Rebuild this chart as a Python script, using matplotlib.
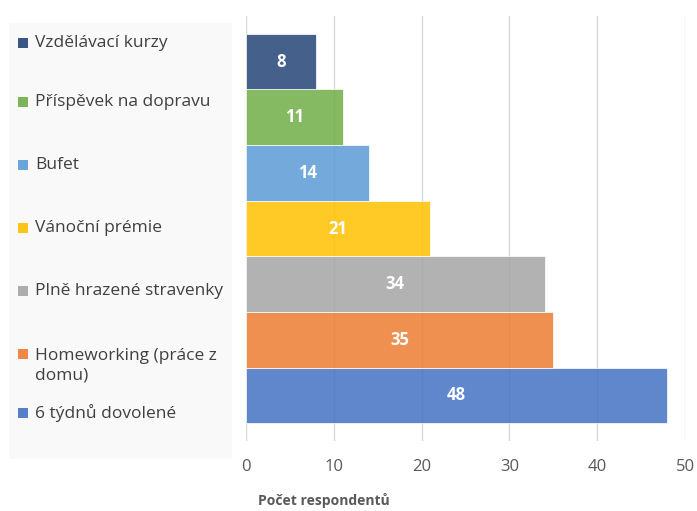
import matplotlib.pyplot as plt
import numpy as np

# data, bottom to top as drawn
categories = ['6 týdnů dovolené', 'Homeworking (práce z\ndomu)', 'Plně hrazené stravenky',
              'Vánoční prémie', 'Bufet', 'Příspěvek na dopravu', 'Vzdělávací kurzy']
values = [48, 35, 34, 21, 14, 11, 8]
colors = ['#4472C4', '#ED7D31', '#A5A5A5', '#FFC000', '#5B9BD5', '#70AD47', '#264478']
x_ticks = [0, 10, 20, 30, 40, 50]
x_label = 'Počet respondentů'

plt.rcParams['font.family'] = ['Open Sans', 'DejaVu Sans']

W, H = 697, 511
fig = plt.figure(figsize=(W / 100, H / 100), dpi=100)

# main bar axes
ax = fig.add_axes([246 / W, 1 - 441 / H, (685 - 246) / W, (441 - 16) / H])
y = np.arange(len(values))
bars = ax.barh(y, values, height=1.0, color=colors, alpha=0.85,
               edgecolor='white', linewidth=0.6, zorder=2)
for b, v in zip(bars, values):
    ax.text(v / 2, b.get_y() + b.get_height() / 2, str(v), ha='center', va='center',
            color='white', fontsize=12, fontweight='bold', zorder=3)

ax.set_xlim(0, 50)
ax.set_ylim(-0.5 - 0.32, len(values) - 0.5 + 0.32)
ax.set_xticks(x_ticks)
ax.set_yticks([])
ax.grid(axis='x', color='#d9d9d9', linewidth=1, zorder=0)
ax.set_axisbelow(True)
for s in ax.spines.values():
    s.set_visible(False)
ax.tick_params(axis='x', length=0, pad=13, labelsize=12, labelcolor='#595959')

fig.text(258 / W, 1 - 500 / H, x_label, fontsize=10, fontweight='bold',
         color='#595959', ha='left', va='center')

# legend panel on the left
lx0, lx1, ly0, ly1 = 9, 232, 23, 459
leg = fig.add_axes([lx0 / W, 1 - ly1 / H, (lx1 - lx0) / W, (ly1 - ly0) / H])
leg.set_facecolor('#f9f9f9')
leg.set_xlim(lx0, lx1)
leg.set_ylim(ly1, ly0)
leg.set_xticks([])
leg.set_yticks([])
for s in leg.spines.values():
    s.set_visible(False)

# top to bottom order in legend
sq_y = [43, 102, 165, 228, 291, 354, 413]
txt_y = [43, 102, 165, 228, 291, 365.5, 413]
for i, (lab, col) in enumerate(zip(categories[::-1], colors[::-1])):
    leg.scatter([22.5], [sq_y[i]], marker='s', s=6.5 ** 2, color=col, alpha=0.9,
                linewidths=0)
    leg.text(35, txt_y[i], lab, fontsize=12.5, color='#404040', ha='left',
             va='center', linespacing=1.3)

fig.savefig('out.png', dpi=100)
